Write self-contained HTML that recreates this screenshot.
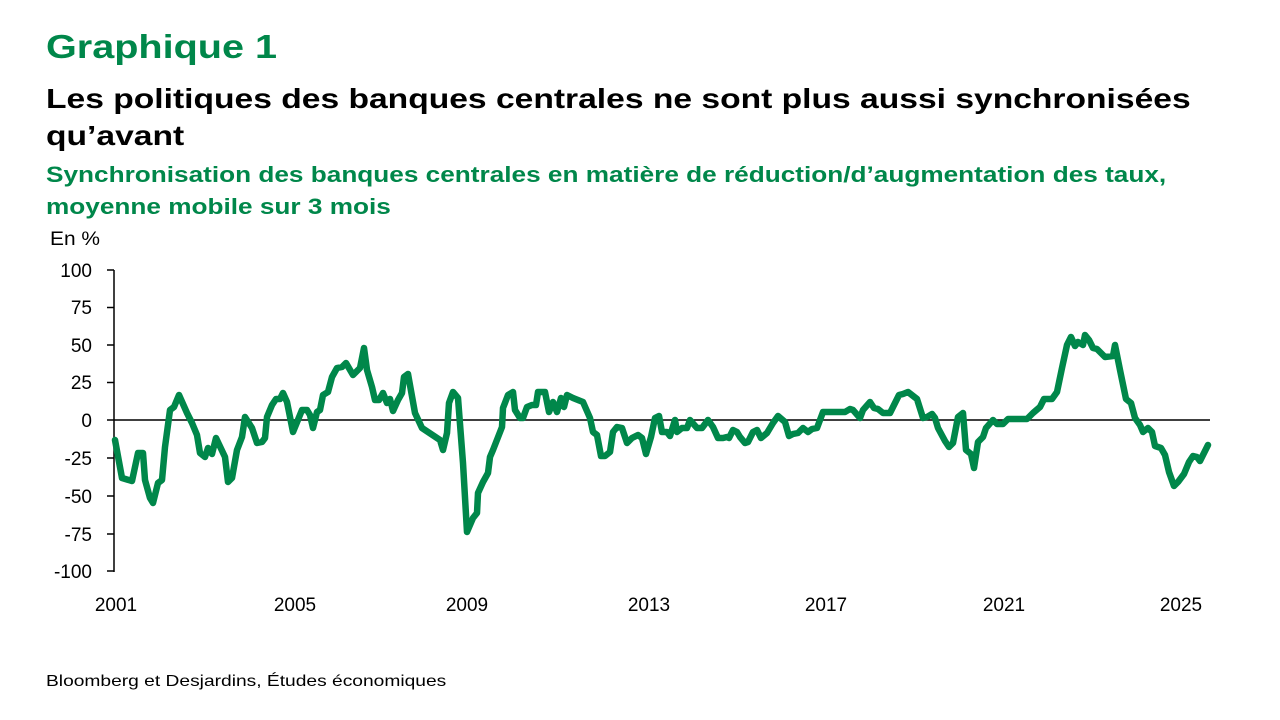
<!DOCTYPE html>
<html><head><meta charset="utf-8"><style>
body{margin:0;width:1280px;height:720px;background:#fff;font-family:"Liberation Sans",sans-serif;position:relative;overflow:hidden}
.t{position:absolute;white-space:nowrap;transform-origin:0 0}
</style></head><body>
<div class="t" style="left:46px;top:28px;font-size:33px;font-weight:bold;color:#00874a;transform:scaleX(1.2)">Graphique 1</div>
<div class="t" style="left:46px;top:80px;font-size:28px;font-weight:bold;color:#000;line-height:37px;transform:scaleX(1.2)">Les politiques des banques centrales ne sont plus aussi synchronisées<br>qu’avant</div>
<div class="t" style="left:46px;top:159px;font-size:22px;font-weight:bold;color:#00874a;line-height:32px;transform:scaleX(1.19)">Synchronisation des banques centrales en matière de réduction/d’augmentation des taux,<br>moyenne mobile sur 3 mois</div>
<div class="t" style="left:50px;top:229px;font-size:19px;color:#000;transform:scaleX(1.1)">En %</div>
<div class="t" style="left:46px;top:673px;font-size:16px;color:#000;transform:scaleX(1.2)">Bloomberg et Desjardins, Études économiques</div>
<svg width="1280" height="720" style="position:absolute;left:0;top:0">
<g stroke="#000" stroke-width="1.5" fill="none">
<line x1="114" y1="270" x2="114" y2="572"/>
<line x1="107" y1="270" x2="114" y2="270"/><line x1="107" y1="307.5" x2="114" y2="307.5"/><line x1="107" y1="345" x2="114" y2="345"/><line x1="107" y1="382.5" x2="114" y2="382.5"/><line x1="107" y1="420" x2="114" y2="420"/><line x1="107" y1="458" x2="114" y2="458"/><line x1="107" y1="496" x2="114" y2="496"/><line x1="107" y1="534" x2="114" y2="534"/><line x1="107" y1="571" x2="114" y2="571"/>
<line x1="114" y1="420" x2="1210" y2="420"/>
</g>
<g font-family="Liberation Sans, sans-serif" font-size="19" fill="#000" text-anchor="end">
<text x="92" y="277">100</text><text x="92" y="314">75</text><text x="92" y="352">50</text><text x="92" y="389">25</text><text x="92" y="427">0</text><text x="92" y="465">-25</text><text x="92" y="503">-50</text><text x="92" y="541">-75</text><text x="92" y="578">-100</text>
</g>
<g font-family="Liberation Sans, sans-serif" font-size="19" fill="#000" text-anchor="middle">
<text x="116" y="611">2001</text><text x="295" y="611">2005</text><text x="467" y="611">2009</text><text x="649" y="611">2013</text><text x="826" y="611">2017</text><text x="1004" y="611">2021</text><text x="1181" y="611">2025</text>
</g>
<polyline fill="none" stroke="#00874a" stroke-width="6.5" stroke-linejoin="round" stroke-linecap="round" points="115,440 122,478 132,481 138,453 143,453 145,480 150,498 153,503 158,483 162,480 165,447 170,410 174,407 179,395 187,413 192,423 197,435 200,453 205,457 208,448 212,454 216,438 225,457 228,482 232,478 237,450 242,437 245,417 252,428 257,443 262,442 265,438 267,417 272,405 276,399 280,399 283,393 287,402 293,432 302,410 307,410 310,415 313,428 317,412 320,410 323,395 328,392 332,377 337,368 342,367 346,363 353,375 360,368 364,348 367,370 372,387 375,400 379,400 383,393 387,403 390,399 393,411 398,400 402,393 404,377 408,374 415,413 422,428 428,432 440,440 443,450 447,433 449,403 453,392 458,398 463,463 467,532 473,518 477,513 478,493 483,482 488,473 490,457 493,450 502,427 503,408 508,395 513,392 515,410 520,418 523,418 527,407 532,405 536,405 538,392 545,392 549,412 553,402 557,412 561,398 564,407 567,395 573,398 578,400 583,402 590,418 593,432 597,435 601,456 605,456 610,452 613,432 617,427 622,428 627,443 632,438 638,435 642,438 646,454 651,437 655,418 659,416 662,432 667,432 670,436 675,420 677,432 682,428 687,428 690,420 697,428 702,428 708,420 713,427 718,438 723,438 727,437 729,438 733,430 737,432 740,437 745,443 748,442 753,432 757,430 761,438 767,433 773,423 778,416 785,422 789,436 793,434 798,433 803,428 808,432 812,429 817,428 823,412 845,412 850,409 853,410 860,418 863,410 870,402 874,408 878,409 883,413 890,413 893,407 899,395 903,394 908,392 917,399 923,418 927,417 932,414 935,418 938,428 945,441 949,447 953,443 958,417 963,413 966,450 971,454 974,468 978,442 983,437 986,428 993,420 997,424 1003,424 1008,419 1027,419 1033,413 1040,407 1044,399 1052,399 1057,392 1062,368 1067,345 1071,337 1075,346 1078,342 1083,345 1085,335 1089,340 1093,348 1097,349 1105,357 1113,356 1115,345 1120,370 1126,399 1131,403 1135,418 1140,425 1143,432 1148,428 1152,432 1155,446 1161,448 1165,455 1169,472 1174,486 1178,482 1184,474 1189,462 1193,456 1197,457 1200,461 1208,445"/>
</svg>
</body></html>
